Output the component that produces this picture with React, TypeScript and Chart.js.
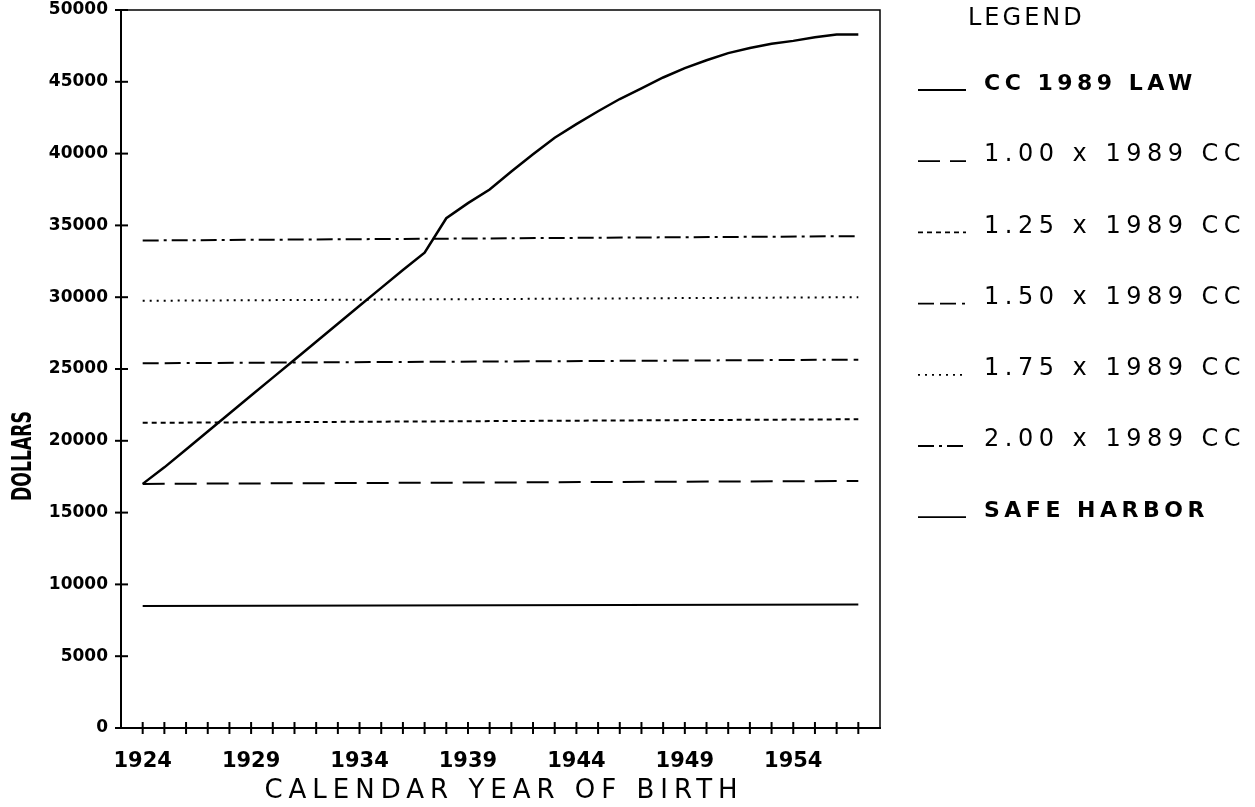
import React, { useEffect, useRef } from "react";
import { Chart, registerables } from "chart.js";

Chart.register(...registerables);

// ---- Data ----
const years = [
  1924, 1925, 1926, 1927, 1928, 1929, 1930, 1931, 1932, 1933, 1934, 1935,
  1936, 1937, 1938, 1939, 1940, 1941, 1942, 1943, 1944, 1945, 1946, 1947,
  1948, 1949, 1950, 1951, 1952, 1953, 1954, 1955, 1956, 1957,
];
const ccLaw1989 = [
  17000, 18150, 19400, 20650, 21900, 23150, 24400, 25650, 26900, 28150,
  29400, 30650, 31900, 33100, 35500, 36550, 37500, 38750, 39950, 41100,
  42050, 42950, 43800, 44550, 45300, 45950, 46500, 47000, 47350, 47650,
  47850, 48100, 48300, 48300,
];
const flatYears = [1924, 1957];
const cc100 = [17000, 17200];
const cc125 = [21250, 21500];
const cc150 = [25400, 25650];
const cc175 = [29750, 30000];
const cc200 = [33950, 34250];
const safeHarbor = [8500, 8600];

const xTickLabels = ["1924", "1929", "1934", "1939", "1944", "1949", "1954"];
const yTicks = [0, 5000, 10000, 15000, 20000, 25000, 30000, 35000, 40000, 45000, 50000];

const legendLabels = [
  "CC 1989 LAW",
  "1.00 x 1989 CC",
  "1.25 x 1989 CC",
  "1.50 x 1989 CC",
  "1.75 x 1989 CC",
  "2.00 x 1989 CC",
  "SAFE HARBOR",
];
const legendBold = [true, false, false, false, false, false, true];

const dashes: number[][] = [
  [],
  [22, 10],
  [5, 4],
  [16, 6, 16, 6, 3, 6],
  [2, 5],
  [16, 5, 3, 5],
  [],
];
const widths = [2.5, 2, 2, 2, 2, 2, 2];

const toPts = (xs: number[], ys: number[]) => xs.map((x, i) => ({ x, y: ys[i] }));

const decorPlugin = {
  id: "decor",
  afterDraw(chart: any) {
    const ctx: CanvasRenderingContext2D = chart.ctx;
    const { left, right, top, bottom } = chart.chartArea;
    const xs = chart.scales.x;
    const ys = chart.scales.y;
    ctx.save();
    ctx.strokeStyle = "#000";
    ctx.fillStyle = "#000";
    ctx.setLineDash([]);
    // frame top & right
    ctx.lineWidth = 1.5;
    ctx.beginPath();
    ctx.moveTo(left, top);
    ctx.lineTo(right, top);
    ctx.lineTo(right, bottom);
    ctx.stroke();
    // cross ticks
    ctx.lineWidth = 2;
    yTicks.forEach((v) => {
      const p = ys.getPixelForValue(v);
      ctx.beginPath();
      ctx.moveTo(left - 6, p);
      ctx.lineTo(left + 7, p);
      ctx.stroke();
    });
    years.forEach((yr) => {
      const p = xs.getPixelForValue(yr);
      ctx.beginPath();
      ctx.moveTo(p, bottom - 6);
      ctx.lineTo(p, bottom + 6);
      ctx.stroke();
    });

    // y title
    ctx.save();
    ctx.translate(24, 456);
    ctx.rotate(-Math.PI / 2);
    ctx.font = 'bold 26px "DejaVu Sans"';
    const w = ctx.measureText("DOLLARS").width;
    ctx.scale(90 / w, 1);
    ctx.textAlign = "center";
    ctx.textBaseline = "middle";
    ctx.fillText("DOLLARS", 0, 0);
    ctx.restore();

    // x title
    (ctx as any).letterSpacing = "6px";
    ctx.font = '26px "DejaVu Sans"';
    ctx.textAlign = "center";
    ctx.textBaseline = "middle";
    ctx.fillText("CALENDAR YEAR OF BIRTH", 504, 791);

    // legend
    (ctx as any).letterSpacing = "3px";
    ctx.font = '24px "DejaVu Sans"';
    ctx.textAlign = "left";
    ctx.fillText("LEGEND", 968, 19);
    legendLabels.forEach((lab, i) => {
      const cy = 84 + i * 71.2;
      ctx.setLineDash(dashes[i]);
      ctx.lineWidth = 1.8;
      ctx.beginPath();
      ctx.moveTo(918, cy + 6);
      ctx.lineTo(966, cy + 6);
      ctx.stroke();
      ctx.setLineDash([]);
      if (legendBold[i]) {
        (ctx as any).letterSpacing = "4.5px";
        ctx.font = 'bold 22px "DejaVu Sans"';
      } else {
        (ctx as any).letterSpacing = "5.5px";
        ctx.font = '24px "DejaVu Sans"';
      }
      ctx.fillText(lab, 984, cy);
    });
    ctx.restore();
  },
};

export default function App() {
  const ref = useRef<HTMLCanvasElement | null>(null);
  useEffect(() => {
    document.body.style.margin = "0";
    const seriesData = [
      toPts(years, ccLaw1989),
      toPts(flatYears, cc100),
      toPts(flatYears, cc125),
      toPts(flatYears, cc150),
      toPts(flatYears, cc175),
      toPts(flatYears, cc200),
      toPts(flatYears, safeHarbor),
    ];
    const chart = new Chart(ref.current as HTMLCanvasElement, {
      type: "line",
      data: {
        datasets: seriesData.map((d, i) => ({
          label: legendLabels[i],
          data: d,
          borderColor: "#000",
          borderWidth: widths[i],
          borderDash: dashes[i],
          pointRadius: 0,
          tension: 0,
          fill: false,
        })),
      },
      options: {
        animation: false,
        responsive: false,
        devicePixelRatio: 1,
        layout: { padding: { left: 0, top: 10, right: 375, bottom: 0 } },
        plugins: { legend: { display: false }, tooltip: { enabled: false } },
        scales: {
          x: {
            type: "linear",
            min: 1923,
            max: 1958,
            grid: { display: false, drawTicks: false },
            border: { display: true, color: "#000", width: 2 },
            afterFit: (s: any) => {
              s.height = 79;
              s.paddingLeft = 0;
              s.paddingRight = 0;
            },
            ticks: {
              stepSize: 1,
              autoSkip: false,
              maxRotation: 0,
              padding: 21,
              color: "#000",
              font: { family: "DejaVu Sans", weight: "bold", size: 21 },
              callback: (v: any) => (xTickLabels.includes(String(v)) ? String(v) : ""),
            },
          },
          y: {
            type: "linear",
            min: 0,
            max: 50000,
            grid: { display: false, drawTicks: false },
            border: { display: true, color: "#000", width: 2 },
            afterFit: (s: any) => {
              s.width = 121;
              s.paddingTop = 0;
              s.paddingBottom = 0;
            },
            ticks: {
              stepSize: 5000,
              padding: 13,
              color: "#000",
              font: { family: "DejaVu Sans", weight: "bold", size: 17 },
              callback: (v: any) => String(v),
            },
          },
        },
      },
      plugins: [decorPlugin],
    });
    return () => chart.destroy();
  }, []);
  return (
    <div style={{ width: 1255, height: 807, background: "#fff" }}>
      <canvas ref={ref} width={1255} height={807} style={{ display: "block" }} />
    </div>
  );
}
